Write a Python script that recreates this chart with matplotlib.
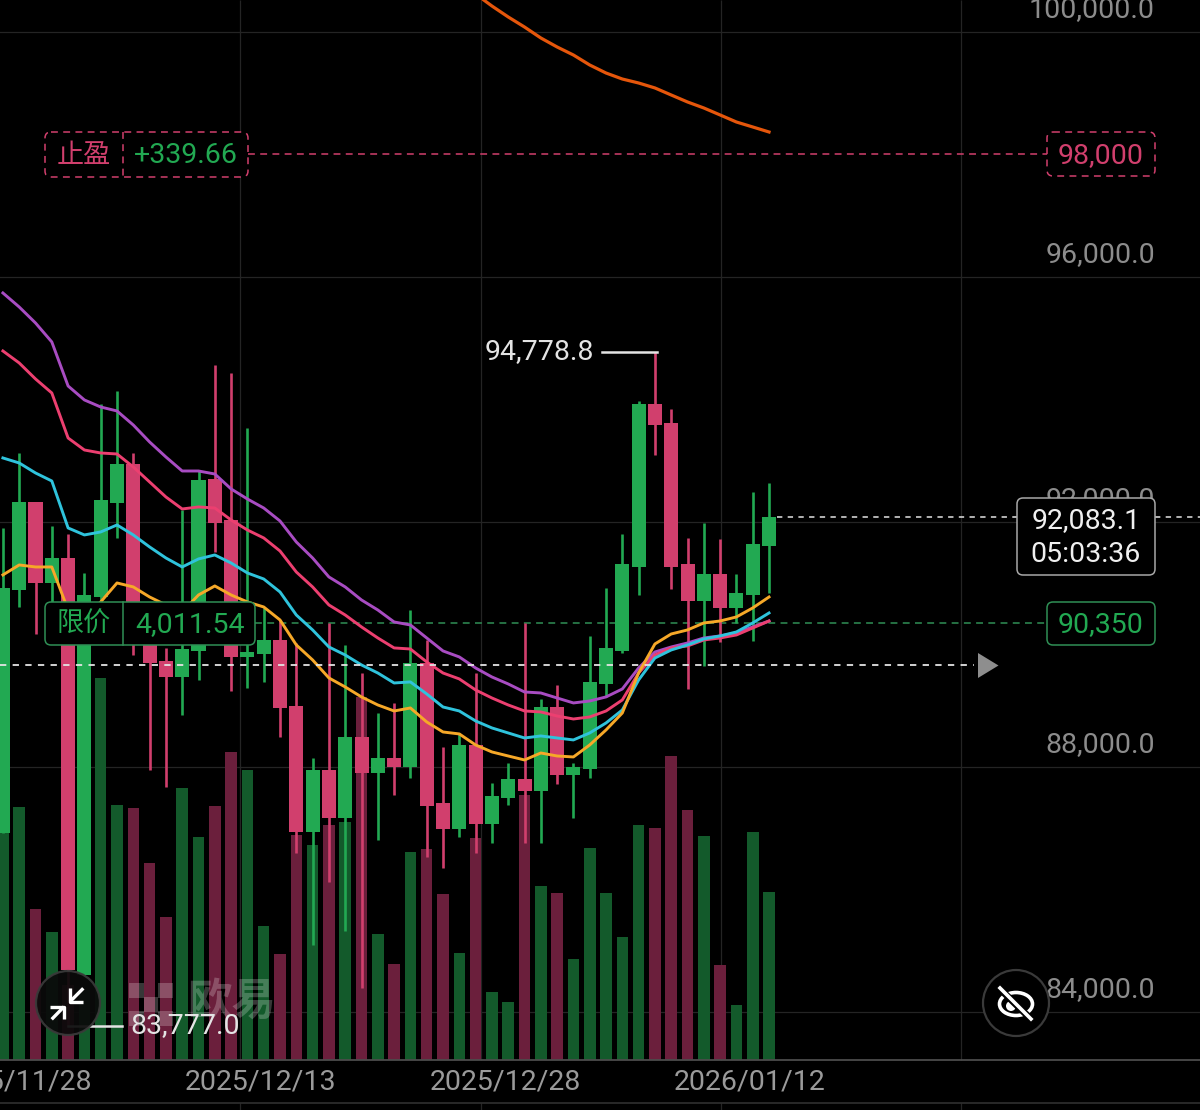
#!/usr/bin/env python3
import numpy as np
import matplotlib
matplotlib.use('Agg')
import matplotlib.pyplot as plt
from matplotlib.patches import FancyBboxPatch, Circle, Ellipse, Polygon, Rectangle
from matplotlib.transforms import blended_transform_factory

plt.rcParams['font.family'] = ['Roboto', 'Noto Sans CJK SC', 'DejaVu Sans']

OPEN = [86922, 90890, 92326, 91004, 91412, 84604, 90775, 92310, 92947, 90318, 89730, 89469,
        89894, 92702, 92032, 89796, 89845, 90073, 88996, 86939, 87951, 87167, 88490, 87902,
        88147, 88000, 89698, 87412, 86988, 88359, 87069, 87494, 87804, 87608, 88979, 87869,
        87967, 89355, 89894, 91265, 93926, 93616, 91314, 90710, 91151, 90596, 90808, 91608]
CLOSE = [90922, 92326, 91004, 91412, 84686, 90808, 92359, 92947, 90318, 89698, 89469, 89926,
         92686, 91984, 89796, 89877, 90073, 88963, 86939, 87951, 87167, 88490, 87902, 88147,
         88000, 89698, 87363, 86988, 88359, 87069, 87526, 87804, 87608, 88979, 87869, 88000,
         89388, 89943, 91314, 93926, 93583, 91265, 90710, 91151, 90596, 90841, 91641, 92083.1]
HIGH = [91902, 93126, 92326, 91934, 91804, 91167, 93926, 94139, 93126, 90481, 89943, 92196,
        92849, 94563, 94432, 93535, 90596, 90400, 90024, 88147, 90351, 89992, 89535, 88881,
        89045, 90563, 90073, 88326, 88555, 89535, 87738, 88065, 90351, 89110, 89339, 88065,
        90139, 90922, 91804, 93975, 94778.8, 93845, 91739, 91984, 91722, 91151, 92490, 92637]
LOW = [86922, 90612, 90171, 90481, 83777, 84604, 90530, 91739, 89828, 87951, 87673, 88849,
       89420, 91510, 89241, 89290, 89388, 88490, 86596, 85094, 86122, 85318, 84392, 86808,
       87543, 87820, 86530, 86351, 86857, 86596, 86759, 87379, 86759, 86759, 87722, 87167,
       87820, 89143, 89861, 90808, 93094, 90906, 89273, 89649, 90041, 90351, 90057, 90832]
VOLUME = [250, 253, 151, 128, 75, 70, 382, 255, 252, 197, 143, 272,
          223, 254, 308, 290, 134, 106, 225, 215, 235, 238, 363, 126,
          96, 208, 211, 166, 107, 222, 68, 58, 265, 174, 167, 101,
          212, 167, 123, 235, 232, 304, 250, 224, 95, 55, 228, 168]

MA_PURPLE = [95739, 95510, 95249, 94939, 94220, 93992, 93877, 93812, 93583, 93306, 93061, 92832,
             92832, 92783, 92539, 92375, 92228, 92016, 91673, 91412, 91102, 90939, 90726, 90563,
             90367, 90318, 90106, 89894, 89796, 89616, 89469, 89355, 89224, 89208, 89126, 89045,
             89077, 89143, 89273, 89616, 89877, 89959, 90024, 90106, 90139, 90188, 90286, 90383]
MA_PINK = [94792, 94596, 94335, 94106, 93371, 93175, 93126, 93110, 92898, 92653, 92408, 92212,
           92245, 92228, 92032, 91869, 91739, 91526, 91183, 90939, 90645, 90481, 90286, 90106,
           89943, 89926, 89714, 89534, 89437, 89257, 89126, 89012, 88914, 88898, 88832, 88783,
           88816, 88914, 89094, 89534, 89828, 89943, 89975, 90073, 90106, 90155, 90269, 90383]
MA_BLUE = [93045, 92963, 92800, 92669, 91902, 91788, 91837, 91951, 91788, 91592, 91412, 91265,
           91396, 91461, 91330, 91167, 91069, 90857, 90481, 90237, 89959, 89828, 89665, 89534,
           89371, 89388, 89192, 88979, 88914, 88751, 88637, 88555, 88473, 88506, 88473, 88441,
           88555, 88718, 88930, 89420, 89779, 89910, 89992, 90090, 90139, 90204, 90351, 90514]
MA_ORANGE = [91135, 91298, 91265, 91265, 90563, 90432, 90694, 91004, 90939, 90775, 90645, 90530,
             90808, 90955, 90808, 90694, 90612, 90400, 89992, 89747, 89453, 89306, 89143, 89012,
             88914, 88963, 88735, 88571, 88539, 88359, 88245, 88179, 88114, 88228, 88179, 88163,
             88359, 88604, 88881, 89534, 90008, 90171, 90237, 90351, 90383, 90449, 90596, 90775]
# only the end of this one is inside the window
MA_LONG = [100620, 100424, 100245, 100081, 99902, 99755, 99624, 99461, 99330, 99232,
           99167, 99086, 98971, 98857, 98759, 98645, 98530, 98449, 98367]

PRICE_TICKS = [100000, 96000, 92000, 88000, 84000]
DATE_LABELS = ['2025/11/28', '2025/12/13', '2025/12/28', '2026/01/12']
DATE_INDEX = [1, 16, 31, 46]
GRID_X = [14.55, 29.33, 44.06, 58.79]
TAKE_PROFIT = 98000
LIMIT_PRICE = 90350
LAST_PRICE = 92083.1
ENTRY_PRICE = 89660

GREEN = '#22a952'
PINK = '#d13f6d'
VOL_GREEN = '#135a2b'
VOL_PINK = '#6b1f3c'
AXIS_GREY = '#8c8c8c'
WHITE = '#e4e4e4'
FONT = 20.5

fig = plt.figure(figsize=(12, 11.1), dpi=100, facecolor='black')
rect = [0, 0, 1, 1]

# price axes: 245 px per 4000, candles 16.3 px apart
ax = fig.add_axes(rect, zorder=2)
ax.set_xlim(-0.178, 73.44)
ax.set_ylim(82399, 100522)
ax.patch.set_visible(False)
ax.axis('off')

ax_vol = fig.add_axes(rect, zorder=1, facecolor='black')
ax_vol.set_xlim(ax.get_xlim())
ax_vol.set_ylim(-50, 1060)
ax_vol.axis('off')

# pixel overlay for labels and icons
ov = fig.add_axes(rect, zorder=3)
ov.set_xlim(0, 1200)
ov.set_ylim(1110, 0)
ov.patch.set_visible(False)
ov.axis('off')
blend = blended_transform_factory(ov.transData, ax.transData)

idx = np.arange(len(CLOSE))
up = np.array(CLOSE) >= np.array(OPEN)

# grid and bottom rules
for p in PRICE_TICKS:
    ax_vol.plot([-1, 75], [p, p], color='#242424', lw=0.9, transform=ax.transData, zorder=0)
ax_vol.vlines(GRID_X, 0, 1060, color='#242424', lw=0.9, zorder=0)
ax_vol.vlines(GRID_X, -50, -43, color='#242424', lw=0.9, zorder=0)
ax_vol.axhline(0, color='#4c4c4c', lw=1.3, zorder=3)
ax_vol.axhline(-43, color='#333333', lw=1.1, zorder=3)

ax_vol.bar(idx, VOLUME, width=0.71, color=[VOL_GREEN if u else VOL_PINK for u in up], zorder=2)

# order lines sit behind the candles
ax.plot([248, 1047], [TAKE_PROFIT, TAKE_PROFIT], color=PINK, lw=1.1, ls=(0, (4.5, 3.5)),
        transform=blend, zorder=1)
ax.plot([255, 1047], [LIMIT_PRICE, LIMIT_PRICE], color='#2f8f55', lw=1.1, ls=(0, (4.5, 3.5)),
        transform=blend, zorder=1)

colors = [GREEN if u else PINK for u in up]
body_low = np.minimum(OPEN, CLOSE)
body_h = np.maximum(np.abs(np.array(CLOSE) - np.array(OPEN)), 40)
ax.vlines(idx, LOW, HIGH, color=colors, lw=1.9, zorder=3)
ax.bar(idx, body_h, bottom=body_low, width=0.86, color=colors, zorder=4)

ax.plot(idx, MA_PURPLE, color='#a84cc2', lw=2.1, zorder=5)
ax.plot(idx, MA_PINK, color='#ec3f70', lw=2.1, zorder=5)
ax.plot(idx, MA_BLUE, color='#2fc3dc', lw=2.1, zorder=5)
ax.plot(idx, MA_ORANGE, color='#f6a828', lw=2.1, zorder=5)
ax.plot(idx[-len(MA_LONG):], MA_LONG, color='#e5560b', lw=2.3, zorder=5)

# axis labels
for p in PRICE_TICKS:
    ov.annotate(f'{p:,.0f}.0', xy=(1155, p), xycoords=blend, xytext=(0, 15.8),
                textcoords='offset points', ha='right', va='center', color=AXIS_GREY, fontsize=FONT)
for i, label_text in zip(DATE_INDEX, DATE_LABELS):
    ax.annotate(label_text, xy=(i, 0), xycoords=ax.get_xaxis_transform(), xytext=(-2, 20),
                textcoords='offset points', ha='center', va='center', color='#9a9a9a', fontsize=FONT)

# last price and entry lines go over the candles
ov.plot([777, 1017], [LAST_PRICE, LAST_PRICE], color=WHITE, lw=1.1, ls=(0, (3.5, 3.5)), transform=blend)
ov.plot([1155, 1200], [LAST_PRICE, LAST_PRICE], color=WHITE, lw=1.1, ls=(0, (3.5, 3.5)), transform=blend)
ov.plot([0, 974], [ENTRY_PRICE, ENTRY_PRICE], color=WHITE, lw=1.3, ls=(0, (3.5, 3.5)), transform=blend)
ov.add_patch(Polygon([(978, 653), (998.5, 665.5), (978, 678)], closed=True, color='#8e8e8e', lw=0))


def box(x0, y0, x1, y1, edge, dashed=False, divider=None):
    style = (0, (4.5, 3.5)) if dashed else '-'
    ov.add_patch(FancyBboxPatch((x0, y0), x1 - x0, y1 - y0, boxstyle='round,pad=0,rounding_size=6',
                                fc='black', ec=edge, lw=1.1, ls=style, zorder=6))
    if divider:
        ov.plot([divider, divider], [y0, y1], color=edge, lw=1.1, ls=style, zorder=7)


def label(x, y, s, color, size=FONT, **kw):
    ov.text(x, y + 1.5, s, color=color, fontsize=size, ha='center', va='center', zorder=8, **kw)


box(45, 132, 248, 177, PINK, dashed=True, divider=123)
label(84, 154, '止盈', PINK, size=19.5)
label(186, 154, '+339.66', GREEN)
box(1047, 132, 1155, 176, PINK, dashed=True)
label(1101, 154, '98,000', PINK)

box(45, 602, 255, 645, '#2f8f55', divider=123)
label(84, 623, '限价', GREEN, size=19.5)
label(190, 623, '4,011.54', GREEN)
box(1047, 602, 1155, 645, '#2f8f55')
label(1101, 623, '90,350', GREEN)

box(1017, 498, 1155, 575, '#a8a8a8')
label(1086, 519, '92,083.1', '#f0f0f0')
label(1086, 553, '05:03:36', '#f0f0f0')

# high and low markers
ov.plot([602, 657], [HIGH[40], HIGH[40]], color=WHITE, lw=1.8, transform=blend, zorder=6)
ov.annotate('94,778.8', xy=(594, HIGH[40]), xycoords=blend, ha='right', va='center',
            color=WHITE, fontsize=FONT, zorder=6)
ov.plot([68, 122], [LOW[4], LOW[4]], color=WHITE, lw=1.8, transform=blend, zorder=6)
ov.annotate('83,777.0', xy=(130, LOW[4]), xycoords=blend, ha='left', va='center',
            color=WHITE, fontsize=FONT, zorder=6)

# watermark
for sx, sy in [(129, 983), (158, 983), (143.5, 997), (129, 1011), (158, 1011)]:
    ov.add_patch(Rectangle((sx, sy), 14.5, 14.5, color='#ffffff', alpha=0.22, lw=0, zorder=5))
ov.text(232, 1003, '欧易', color='#ffffff', alpha=0.22, fontsize=32, fontweight='bold',
        ha='center', va='center', zorder=5)

# collapse button
ov.add_patch(Circle((68, 1003), 32, fc='#0a0a0a', ec='#3a3a3a', lw=1.6, alpha=0.93, zorder=9))
for xs, ys in [([70, 70, 83.3], [988.3, 1001.7, 1001.7]), ([70, 83.3], [1001.7, 988.3]),
               ([50, 64, 64], [1006.7, 1006.7, 1019.3]), ([64, 51.7], [1006.7, 1019.3])]:
    ov.plot(xs, ys, color='white', lw=2.4, zorder=10, solid_capstyle='butt')

# hide indicators button
ov.add_patch(Circle((1016, 1003), 33, fc='black', ec='#3a3a3a', lw=1.6, zorder=9))
ov.add_patch(Ellipse((1016, 1004), 33, 23, fc='none', ec='white', lw=2.6, zorder=10))
ov.add_patch(Ellipse((1011, 1006), 10, 10, fc='white', ec='none', zorder=10))
ov.plot([999, 1032], [988, 1020], color='black', lw=5, zorder=10)
ov.plot([1000, 1031], [988, 1019], color='white', lw=2.6, zorder=11)

fig.savefig('out.png', dpi=100, facecolor='black')
